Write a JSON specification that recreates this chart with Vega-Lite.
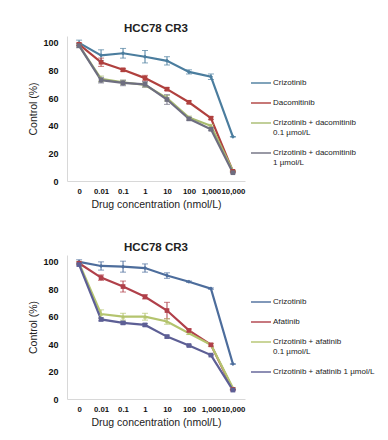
{
  "$schema": "https://vega.github.io/schema/vega-lite/v6.json",
  "padding": {"left": 28, "top": 22, "right": 0, "bottom": 0},
  "background": "white",
  "config": {
    "font": "Liberation Sans",
    "view": {"stroke": null},
    "concat": {"spacing": 30},
    "axis": {"grid": false, "ticks": false, "domainColor": "#d8d8d8", "labelColor": "#111", "labelFont": "Liberation Sans", "labelFontWeight": "bold", "labelFontSize": 9, "titleFont": "Liberation Sans", "titleColor": "#222", "titleFontWeight": "normal"},
    "title": {"font": "Liberation Sans", "fontSize": 11.5, "fontWeight": "bold", "color": "#222", "offset": 2},
    "legend": {"orient": "none", "legendX": 183, "legendY": 36, "title": null, "symbolType": "stroke", "symbolSize": 400, "symbolStrokeWidth": 2, "labelFontSize": 8, "labelFont": "Liberation Sans", "labelColor": "#222", "labelOffset": 1, "rowPadding": 5, "labelLimit": 200}
  },
  "datasets": {
    "top": [
      {"conc": "0", "series": "Crizotinib", "v": 100, "lo": 98, "hi": 102},
      {"conc": "0.01", "series": "Crizotinib", "v": 91, "lo": 87, "hi": 95},
      {"conc": "0.1", "series": "Crizotinib", "v": 92.5, "lo": 89, "hi": 96},
      {"conc": "1", "series": "Crizotinib", "v": 90, "lo": 85.5, "hi": 94.5},
      {"conc": "10", "series": "Crizotinib", "v": 87, "lo": 84, "hi": 90},
      {"conc": "100", "series": "Crizotinib", "v": 79, "lo": 77.5, "hi": 80.5},
      {"conc": "1,000", "series": "Crizotinib", "v": 75.5, "lo": 73.5, "hi": 77.5},
      {"conc": "10,000", "series": "Crizotinib", "v": 32, "lo": 32, "hi": 32},
      {"conc": "0", "series": "Dacomitinib", "v": 99, "lo": 98, "hi": 100},
      {"conc": "0.01", "series": "Dacomitinib", "v": 86, "lo": 83, "hi": 89},
      {"conc": "0.1", "series": "Dacomitinib", "v": 80.5, "lo": 79.5, "hi": 81.5},
      {"conc": "1", "series": "Dacomitinib", "v": 74.5, "lo": 72.5, "hi": 76.5},
      {"conc": "10", "series": "Dacomitinib", "v": 66.5, "lo": 65.5, "hi": 67.5},
      {"conc": "100", "series": "Dacomitinib", "v": 57, "lo": 56, "hi": 58},
      {"conc": "1,000", "series": "Dacomitinib", "v": 45.5, "lo": 44.5, "hi": 46.5},
      {"conc": "10,000", "series": "Dacomitinib", "v": 7, "lo": 7, "hi": 7},
      {"conc": "0", "series": "Crizotinib + dacomitinib 0.1 µmol/L", "v": 98, "lo": 97, "hi": 99},
      {"conc": "0.01", "series": "Crizotinib + dacomitinib 0.1 µmol/L", "v": 74, "lo": 72, "hi": 76},
      {"conc": "0.1", "series": "Crizotinib + dacomitinib 0.1 µmol/L", "v": 71.5, "lo": 70, "hi": 73},
      {"conc": "1", "series": "Crizotinib + dacomitinib 0.1 µmol/L", "v": 69.5, "lo": 68, "hi": 71},
      {"conc": "10", "series": "Crizotinib + dacomitinib 0.1 µmol/L", "v": 60, "lo": 58, "hi": 62},
      {"conc": "100", "series": "Crizotinib + dacomitinib 0.1 µmol/L", "v": 46, "lo": 45, "hi": 47},
      {"conc": "1,000", "series": "Crizotinib + dacomitinib 0.1 µmol/L", "v": 40, "lo": 39, "hi": 41},
      {"conc": "10,000", "series": "Crizotinib + dacomitinib 0.1 µmol/L", "v": 7.5, "lo": 7.5, "hi": 7.5},
      {"conc": "0", "series": "Crizotinib + dacomitinib 1 µmol/L", "v": 98, "lo": 96.5, "hi": 99.5},
      {"conc": "0.01", "series": "Crizotinib + dacomitinib 1 µmol/L", "v": 73, "lo": 71, "hi": 75},
      {"conc": "0.1", "series": "Crizotinib + dacomitinib 1 µmol/L", "v": 71, "lo": 69, "hi": 73},
      {"conc": "1", "series": "Crizotinib + dacomitinib 1 µmol/L", "v": 70, "lo": 68, "hi": 72},
      {"conc": "10", "series": "Crizotinib + dacomitinib 1 µmol/L", "v": 59, "lo": 55.5, "hi": 62.5},
      {"conc": "100", "series": "Crizotinib + dacomitinib 1 µmol/L", "v": 45, "lo": 44, "hi": 46},
      {"conc": "1,000", "series": "Crizotinib + dacomitinib 1 µmol/L", "v": 37.5, "lo": 36.5, "hi": 38.5},
      {"conc": "10,000", "series": "Crizotinib + dacomitinib 1 µmol/L", "v": 6, "lo": 6, "hi": 6}
    ],
    "bottom": [
      {"conc": "0", "series": "Crizotinib", "v": 100, "lo": 98.5, "hi": 101.5},
      {"conc": "0.01", "series": "Crizotinib", "v": 97, "lo": 94, "hi": 100},
      {"conc": "0.1", "series": "Crizotinib", "v": 96.5, "lo": 92.5, "hi": 100.5},
      {"conc": "1", "series": "Crizotinib", "v": 95.5, "lo": 92.5, "hi": 98.5},
      {"conc": "10", "series": "Crizotinib", "v": 90, "lo": 88, "hi": 92},
      {"conc": "100", "series": "Crizotinib", "v": 85.5, "lo": 85, "hi": 86},
      {"conc": "1,000", "series": "Crizotinib", "v": 80.5, "lo": 80, "hi": 81},
      {"conc": "10,000", "series": "Crizotinib", "v": 25.5, "lo": 25.5, "hi": 25.5},
      {"conc": "0", "series": "Afatinib", "v": 99, "lo": 98, "hi": 100},
      {"conc": "0.01", "series": "Afatinib", "v": 88.5, "lo": 86.5, "hi": 90.5},
      {"conc": "0.1", "series": "Afatinib", "v": 82, "lo": 78, "hi": 86},
      {"conc": "1", "series": "Afatinib", "v": 74.5, "lo": 73, "hi": 76},
      {"conc": "10", "series": "Afatinib", "v": 64.5, "lo": 58.5, "hi": 70.5},
      {"conc": "100", "series": "Afatinib", "v": 50, "lo": 49, "hi": 51},
      {"conc": "1,000", "series": "Afatinib", "v": 39.5, "lo": 38.5, "hi": 40.5},
      {"conc": "10,000", "series": "Afatinib", "v": 7, "lo": 7, "hi": 7},
      {"conc": "0", "series": "Crizotinib + afatinib 0.1 µmol/L", "v": 99, "lo": 98, "hi": 100},
      {"conc": "0.01", "series": "Crizotinib + afatinib 0.1 µmol/L", "v": 62, "lo": 59, "hi": 65},
      {"conc": "0.1", "series": "Crizotinib + afatinib 0.1 µmol/L", "v": 60, "lo": 57.5, "hi": 62.5},
      {"conc": "1", "series": "Crizotinib + afatinib 0.1 µmol/L", "v": 60, "lo": 57.5, "hi": 62.5},
      {"conc": "10", "series": "Crizotinib + afatinib 0.1 µmol/L", "v": 56.5, "lo": 54.5, "hi": 58.5},
      {"conc": "100", "series": "Crizotinib + afatinib 0.1 µmol/L", "v": 48, "lo": 47, "hi": 49},
      {"conc": "1,000", "series": "Crizotinib + afatinib 0.1 µmol/L", "v": 39.5, "lo": 38.5, "hi": 40.5},
      {"conc": "10,000", "series": "Crizotinib + afatinib 0.1 µmol/L", "v": 8, "lo": 8, "hi": 8},
      {"conc": "0", "series": "Crizotinib + afatinib 1 µmol/L", "v": 98, "lo": 97, "hi": 99},
      {"conc": "0.01", "series": "Crizotinib + afatinib 1 µmol/L", "v": 58, "lo": 57, "hi": 59},
      {"conc": "0.1", "series": "Crizotinib + afatinib 1 µmol/L", "v": 55.5, "lo": 54.5, "hi": 56.5},
      {"conc": "1", "series": "Crizotinib + afatinib 1 µmol/L", "v": 54, "lo": 53, "hi": 55},
      {"conc": "10", "series": "Crizotinib + afatinib 1 µmol/L", "v": 45.5, "lo": 44.5, "hi": 46.5},
      {"conc": "100", "series": "Crizotinib + afatinib 1 µmol/L", "v": 39, "lo": 38.5, "hi": 39.5},
      {"conc": "1,000", "series": "Crizotinib + afatinib 1 µmol/L", "v": 32, "lo": 31.5, "hi": 32.5},
      {"conc": "10,000", "series": "Crizotinib + afatinib 1 µmol/L", "v": 6.5, "lo": 6.5, "hi": 6.5}
    ]
  },
  "resolve": {"scale": {"color": "independent"}, "legend": {"color": "independent"}},
  "vconcat": [
    {
      "title": "HCC78 CR3",
      "width": 178,
      "height": 145,
      "data": {"name": "top"},
      "encoding": {
        "x": {"field": "conc", "type": "ordinal", "scale": {"type": "point", "padding": 0.55, "domain": ["0", "0.01", "0.1", "1", "10", "100", "1,000", "10,000"]}, "axis": {"labelAngle": 0, "labelPadding": 6, "labelFontSize": 7.8, "title": "Drug concentration (nmol/L)", "titleFontSize": 10.5, "titlePadding": 5}},
        "y": {"field": "v", "type": "quantitative", "scale": {"domain": [0, 105], "nice": false}, "axis": {"values": [0, 20, 40, 60, 80, 100], "labelPadding": 9, "title": "Control (%)", "titleFontSize": 10.5, "titlePadding": 4}},
        "color": {"field": "series", "type": "nominal", "scale": {"domain": ["Crizotinib", "Dacomitinib", "Crizotinib + dacomitinib 0.1 µmol/L", "Crizotinib + dacomitinib 1 µmol/L"], "range": ["#4b7d9e", "#b0403e", "#a8bb6e", "#6e6e80"]}, "legend": {"labelExpr": "indexof(datum.label, ' 0.1') > 0 ? split(replace(datum.label, ' 0.1', '|0.1'), '|') : indexof(datum.label, ' 1 µ') > 0 ? split(replace(datum.label, ' 1 µ', '|1 µ'), '|') : datum.label"}}
      },
      "layer": [
        {"mark": {"type": "line", "strokeWidth": 2.2}},
        {"mark": {"type": "rule", "color": "#333", "strokeWidth": 1}, "encoding": {"y": {"field": "lo", "type": "quantitative"}, "y2": {"field": "hi"}}},
        {"mark": {"type": "tick", "color": "#333", "thickness": 1, "size": 6, "orient": "horizontal"}, "encoding": {"y": {"field": "lo", "type": "quantitative"}}},
        {"mark": {"type": "tick", "color": "#333", "thickness": 1, "size": 6, "orient": "horizontal"}, "encoding": {"y": {"field": "hi", "type": "quantitative"}}},
        {"transform": [{"filter": "datum.series == 'Crizotinib'"}], "mark": {"type": "point", "filled": true, "size": 16, "shape": "diamond", "opacity": 1}},
        {"transform": [{"filter": "indexof(datum.series, '0.1') > 0"}], "mark": {"type": "point", "filled": true, "size": 16, "shape": "triangle-up", "opacity": 1}},
        {"transform": [{"filter": "datum.series != 'Crizotinib' && indexof(datum.series, '0.1') < 0"}], "mark": {"type": "point", "filled": true, "size": 22, "shape": "square", "opacity": 1}}
      ]
    },
    {
      "title": "HCC78 CR3",
      "width": 178,
      "height": 144,
      "data": {"name": "bottom"},
      "encoding": {
        "x": {"field": "conc", "type": "ordinal", "scale": {"type": "point", "padding": 0.55, "domain": ["0", "0.01", "0.1", "1", "10", "100", "1,000", "10,000"]}, "axis": {"labelAngle": 0, "labelPadding": 6, "labelFontSize": 7.8, "title": "Drug concentration (nmol/L)", "titleFontSize": 10.5, "titlePadding": 5}},
        "y": {"field": "v", "type": "quantitative", "scale": {"domain": [0, 105], "nice": false}, "axis": {"values": [0, 20, 40, 60, 80, 100], "labelPadding": 9, "title": "Control (%)", "titleFontSize": 10.5, "titlePadding": 4}},
        "color": {"field": "series", "type": "nominal", "scale": {"domain": ["Crizotinib", "Afatinib", "Crizotinib + afatinib 0.1 µmol/L", "Crizotinib + afatinib 1 µmol/L"], "range": ["#4d6d9c", "#b0404a", "#b4c46e", "#5d5f95"]}, "legend": {"labelExpr": "indexof(datum.label, ' 0.1') > 0 ? split(replace(datum.label, ' 0.1', '|0.1'), '|') : datum.label"}}
      },
      "layer": [
        {"mark": {"type": "line", "strokeWidth": 2.2}},
        {"mark": {"type": "rule", "color": "#333", "strokeWidth": 1}, "encoding": {"y": {"field": "lo", "type": "quantitative"}, "y2": {"field": "hi"}}},
        {"mark": {"type": "tick", "color": "#333", "thickness": 1, "size": 6, "orient": "horizontal"}, "encoding": {"y": {"field": "lo", "type": "quantitative"}}},
        {"mark": {"type": "tick", "color": "#333", "thickness": 1, "size": 6, "orient": "horizontal"}, "encoding": {"y": {"field": "hi", "type": "quantitative"}}},
        {"transform": [{"filter": "datum.series == 'Crizotinib'"}], "mark": {"type": "point", "filled": true, "size": 16, "shape": "diamond", "opacity": 1}},
        {"transform": [{"filter": "indexof(datum.series, '0.1') > 0"}], "mark": {"type": "point", "filled": true, "size": 16, "shape": "triangle-up", "opacity": 1}},
        {"transform": [{"filter": "datum.series != 'Crizotinib' && indexof(datum.series, '0.1') < 0"}], "mark": {"type": "point", "filled": true, "size": 22, "shape": "square", "opacity": 1}}
      ]
    }
  ]
}
